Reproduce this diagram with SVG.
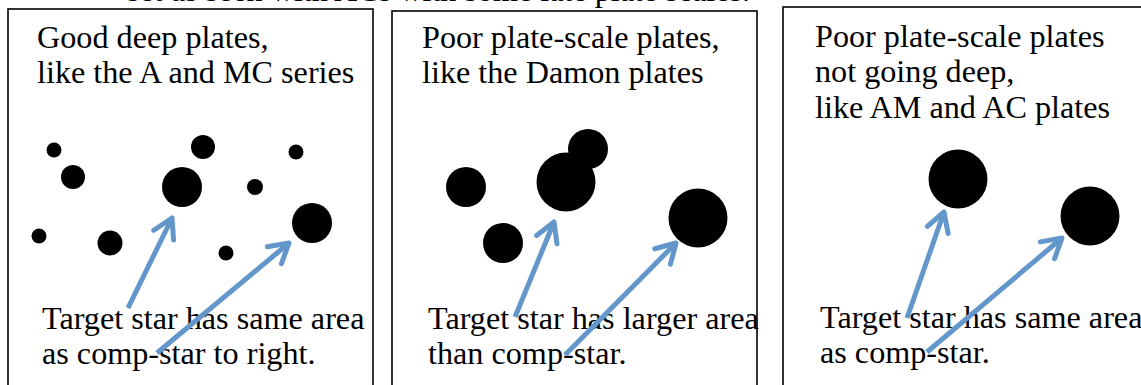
<svg xmlns="http://www.w3.org/2000/svg" width="1141" height="385" viewBox="0 0 1141 385">
<style>
.t{font-family:"Liberation Serif","Times New Roman",serif;font-size:32.2px;fill:#000}
.box{fill:#fff;stroke:#000;stroke-width:1.6}
.star{fill:#000}
.arr{stroke:#6397CB;stroke-width:5;fill:none;marker-end:url(#open)}
</style>
<defs>
<marker id="open" markerUnits="userSpaceOnUse" markerWidth="30" markerHeight="30" viewBox="0 0 30 30" refX="24" refY="15" orient="auto" overflow="visible">
<path d="M5,4 L24,15 L5,26" fill="none" stroke="#6397CB" stroke-width="5" stroke-linecap="round" stroke-linejoin="round"/>
</marker>
</defs>
<rect width="1141" height="385" fill="#fff"/>
<text class="t" x="127" y="1" textLength="623">set as seen with ACs with some late plate scales.</text>

<g id="panel1">
<rect class="box" x="8" y="9" width="365" height="390"/>
<text class="t" x="37" y="48">Good deep plates,</text>
<text class="t" x="37" y="83">like the A and MC series</text>
<circle class="star" cx="54" cy="150" r="7.5"/>
<circle class="star" cx="73" cy="177" r="12"/>
<circle class="star" cx="182" cy="187" r="20"/>
<circle class="star" cx="203" cy="147" r="12"/>
<circle class="star" cx="255" cy="187" r="8"/>
<circle class="star" cx="296" cy="152" r="7.5"/>
<circle class="star" cx="39" cy="236" r="7.5"/>
<circle class="star" cx="110" cy="243" r="12.5"/>
<circle class="star" cx="226" cy="253" r="7.5"/>
<circle class="star" cx="312" cy="223" r="20"/>
<text class="t" x="42" y="329">Target star has same area</text>
<text class="t" x="42" y="364">as comp-star to right.</text>
</g>

<g id="panel2">
<rect class="box" x="392" y="11" width="365" height="390"/>
<text class="t" x="422" y="48">Poor plate-scale plates,</text>
<text class="t" x="422" y="83">like the Damon plates</text>
<circle class="star" cx="466" cy="187" r="20"/>
<circle class="star" cx="503" cy="243" r="20"/>
<circle class="star" cx="588" cy="149" r="20"/>
<circle class="star" cx="566" cy="182" r="29.5"/>
<circle class="star" cx="698" cy="218" r="29.5"/>
<text class="t" x="428" y="329">Target star has larger area</text>
<text class="t" x="428" y="364">than comp-star.</text>
</g>

<g id="panel3">
<rect class="box" x="783" y="7" width="400" height="400" stroke-width="2.6"/>
<text class="t" x="815" y="47">Poor plate-scale plates</text>
<text class="t" x="815" y="82">not going deep,</text>
<text class="t" x="815" y="118">like AM and AC plates</text>
<circle class="star" cx="958" cy="179" r="29.5"/>
<circle class="star" cx="1090" cy="216" r="29.5"/>
<text class="t" x="820" y="328">Target star has same area</text>
<text class="t" x="820" y="363">as comp-star.</text>
</g>

<g id="connectors">
<line class="arr" x1="128" y1="308" x2="172" y2="218"/>
<line class="arr" x1="157" y1="353" x2="289" y2="243"/>
<line class="arr" x1="515" y1="317" x2="554" y2="222"/>
<line class="arr" x1="565" y1="355" x2="676" y2="243"/>
<line class="arr" x1="907" y1="318" x2="944" y2="212"/>
<line class="arr" x1="927" y1="352" x2="1062" y2="238"/>
</g>
</svg>
